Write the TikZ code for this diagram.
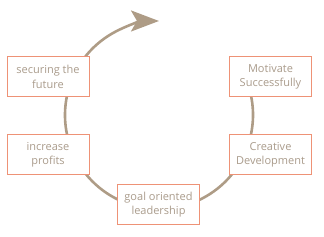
\documentclass[tikz,border=0pt]{standalone}
\usepackage{fontspec}
\setmainfont{Open Sans}
\usetikzlibrary{arrows.meta}
\definecolor{ringbrown}{RGB}{174,156,134}
\definecolor{boxsalmon}{RGB}{238,146,118}
\definecolor{textbrown}{RGB}{170,156,140}
\begin{document}
\begin{tikzpicture}[x=1pt,y=1pt,font=\fontsize{11}{14.5}\selectfont,
  stepbox/.style={draw=boxsalmon,line width=1pt,fill=white,text=textbrown,
    minimum width=82pt,minimum height=40pt,align=center,inner sep=0pt}]
  \useasboundingbox (0,0) rectangle (324,237);
  \draw[ringbrown,line width=2.6pt,-{Stealth[length=28pt,width=21pt,inset=6pt]}]
    (159,122) ++(30:94) arc [start angle=30,end angle=-270,radius=94];
  \node[stepbox] (secure) at (48,160) {securing the\\future};
  \node[stepbox] (motivate) at (270.5,160) {Motivate\\Successfully};
  \node[stepbox] (profits) at (48,82) {increase\\profits};
  \node[stepbox] (creative) at (270.5,82) {Creative\\Development};
  \node[stepbox] (goal) at (158.5,32.5) {goal oriented\\leadership};
\end{tikzpicture}
\end{document}
